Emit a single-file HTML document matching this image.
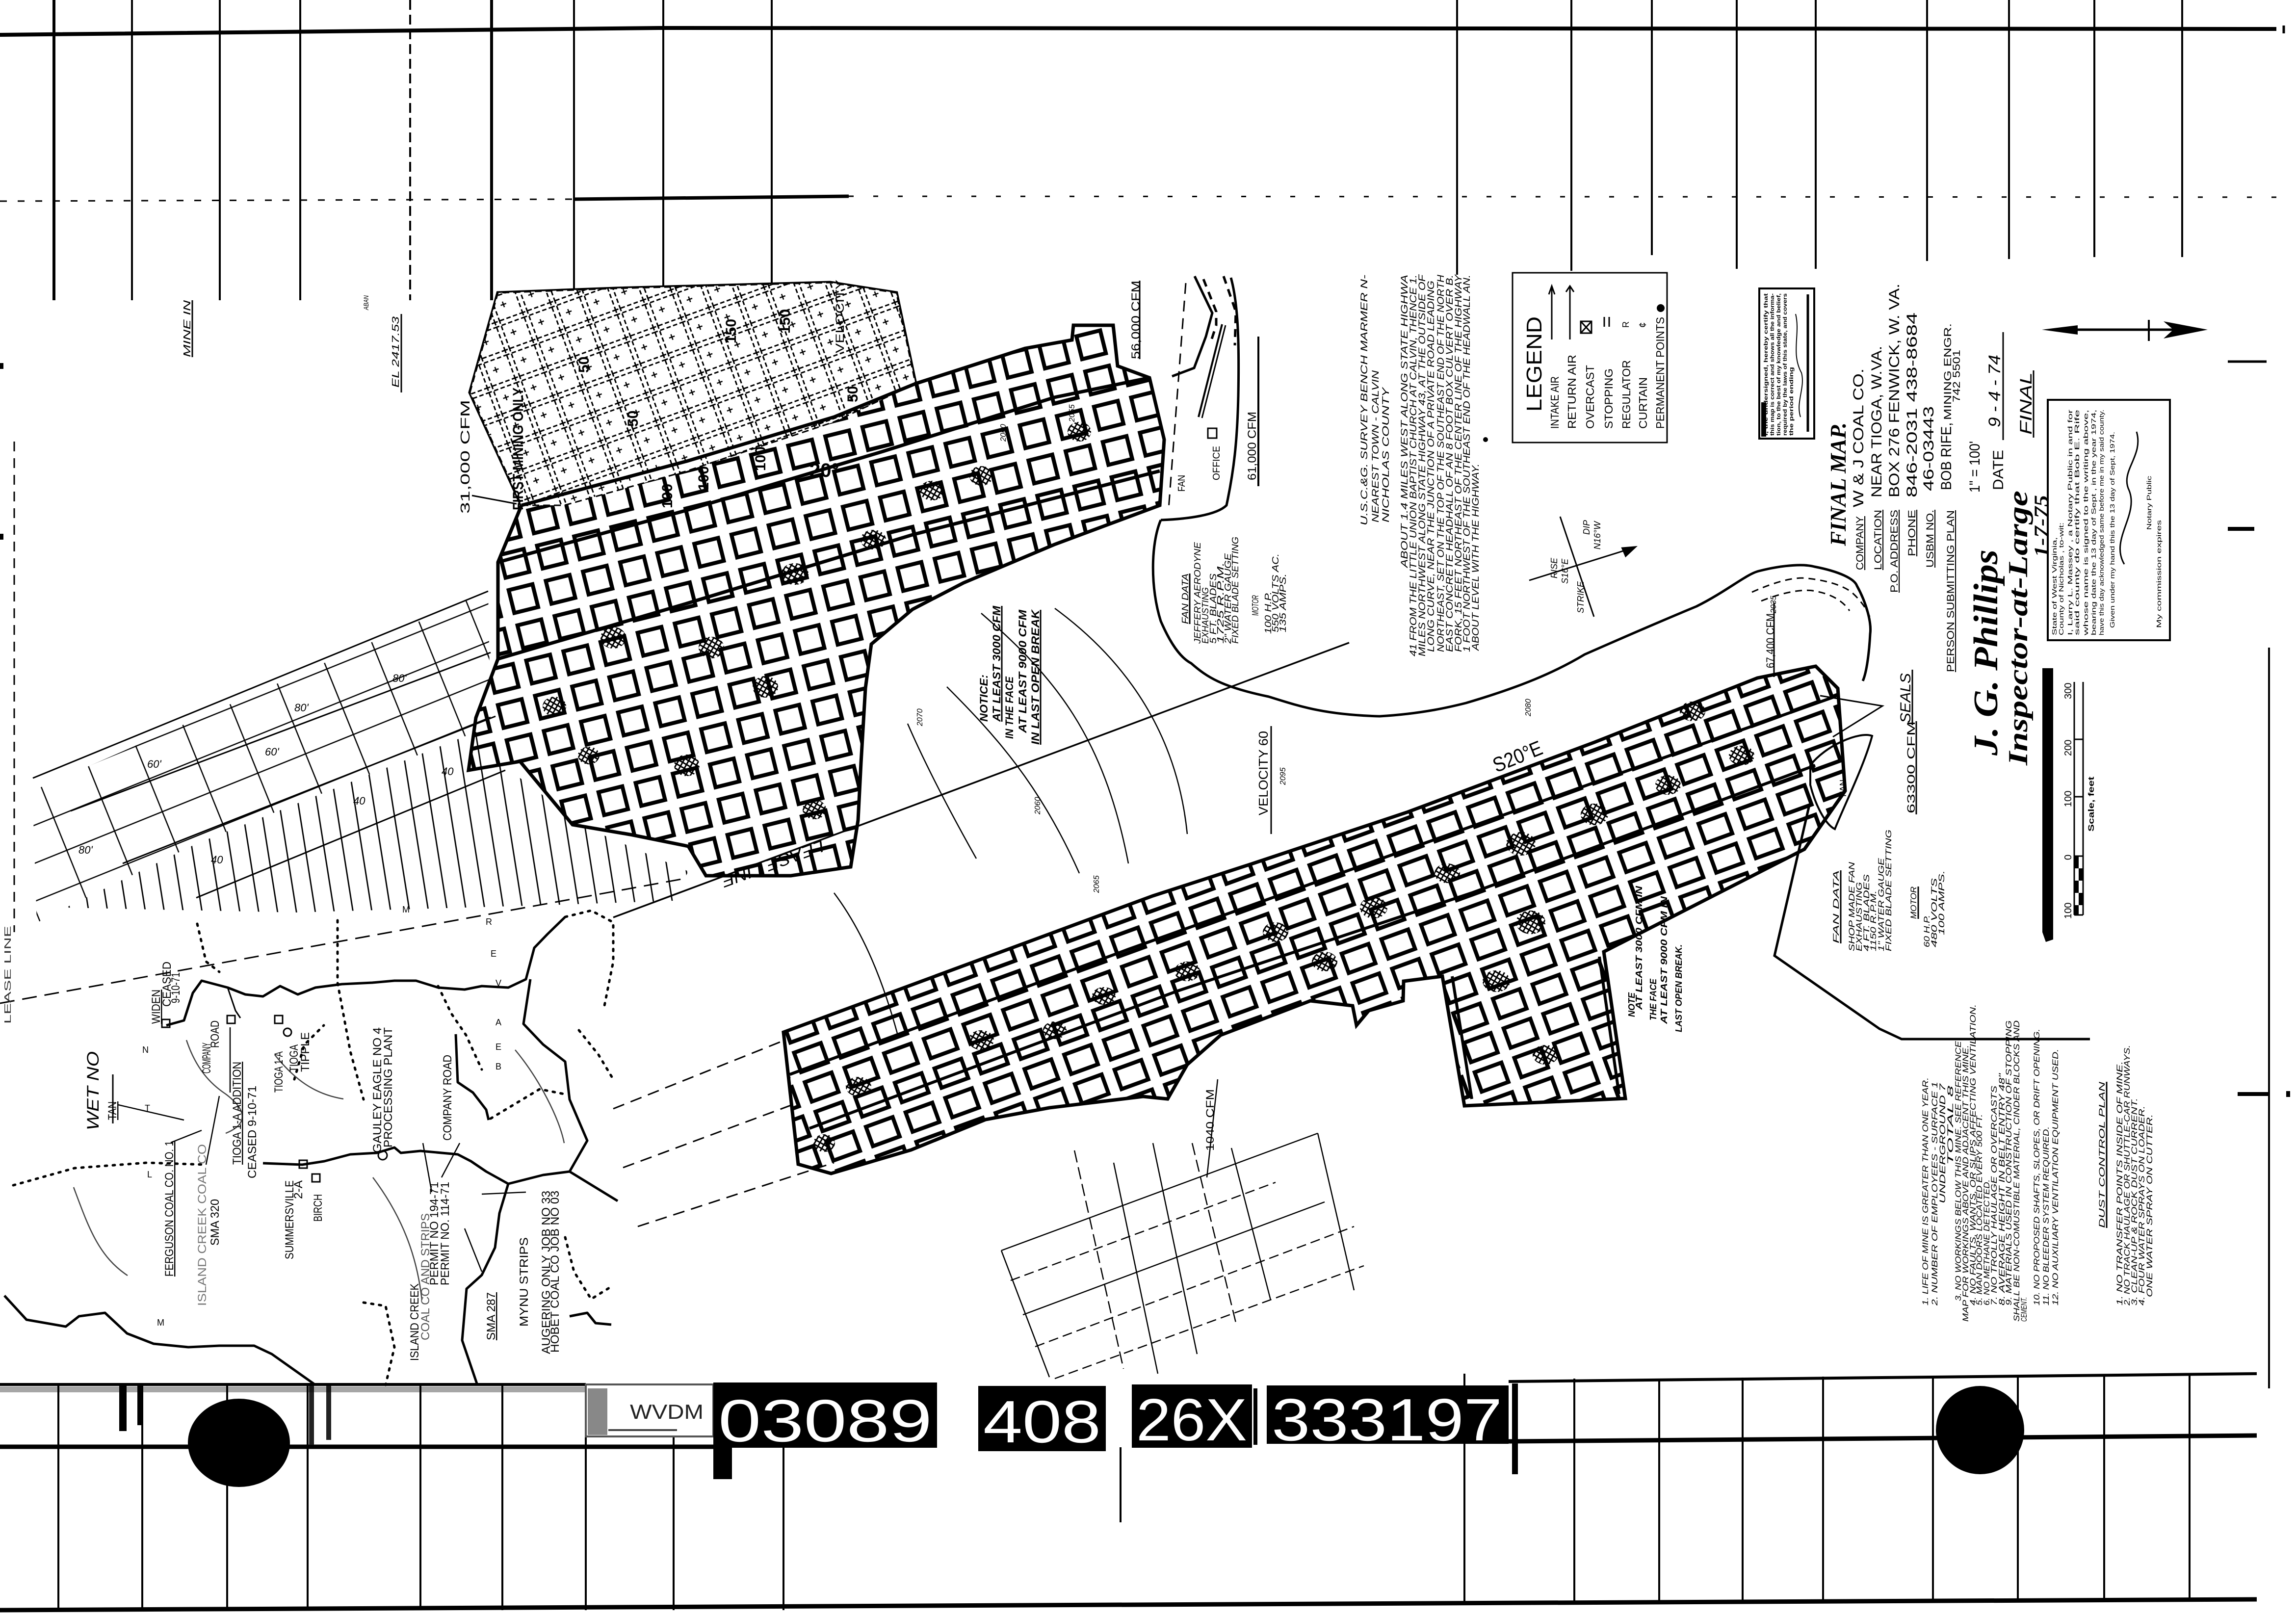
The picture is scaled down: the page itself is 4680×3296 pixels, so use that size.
<!DOCTYPE html>
<html><head><meta charset="utf-8">
<style>
html,body{margin:0;padding:0;background:#fff;}
svg{display:block;}
text{font-family:"Liberation Sans",sans-serif;}
.i{font-style:italic;}
.s{font-family:"Liberation Serif",serif;font-style:italic;font-weight:bold;}
</style></head><body>
<svg xmlns="http://www.w3.org/2000/svg" width="4680" height="3296" viewBox="0 0 4680 3296">
<defs>
<pattern id="pilL" patternUnits="userSpaceOnUse" width="86" height="64" patternTransform="rotate(-20)">
<rect x="13" y="10" width="58" height="42" fill="none" stroke="#000" stroke-width="8"/>
</pattern>
<pattern id="pilU" patternUnits="userSpaceOnUse" width="78" height="74" patternTransform="rotate(-14)">
<rect x="13" y="12" width="50" height="48" fill="none" stroke="#000" stroke-width="8"/>
</pattern>
<pattern id="fine" patternUnits="userSpaceOnUse" width="60" height="60" patternTransform="rotate(-20)">
<path d="M0 3H60M0 13H60M3 0V60M13 0V60" fill="none" stroke="#000" stroke-width="3" stroke-dasharray="9 5"/>
<path d="M26 34h12M32 28v12" stroke="#000" stroke-width="2.5"/>
</pattern>
<pattern id="sgrid" patternUnits="userSpaceOnUse" width="105" height="72" patternTransform="rotate(-22)">
<path d="M0 2H105M2 0V72" stroke="#000" stroke-width="2.5" fill="none"/>
</pattern>
<pattern id="hatch" patternUnits="userSpaceOnUse" width="38" height="100" patternTransform="rotate(-9)">
<path d="M2 0V100" stroke="#000" stroke-width="2.8"/>
</pattern>
<pattern id="xh" patternUnits="userSpaceOnUse" width="9" height="9" patternTransform="rotate(30)">
<path d="M0 2H9M2 0V9" stroke="#000" stroke-width="3"/>
</pattern>
</defs>

<rect width="4680" height="3296" fill="#fff"/>

<!-- ===== TOP FRAME ===== -->
<g stroke="#000" fill="none">
<polyline points="0,71 1343,57 4640,59" stroke-width="8"/>
<g stroke-width="4">
<line x1="110" y1="0" x2="110" y2="612" stroke-width="6"/>
<line x1="269" y1="0" x2="269" y2="612"/>
<line x1="448" y1="0" x2="448" y2="612"/>
<line x1="612" y1="0" x2="612" y2="612"/>
<line x1="836" y1="0" x2="836" y2="612" stroke-dasharray="20 10"/>
<line x1="1002" y1="0" x2="1002" y2="612" stroke-width="6"/>
<line x1="1170" y1="0" x2="1170" y2="612"/>
<line x1="1352" y1="0" x2="1352" y2="612"/>
<line x1="1573" y1="0" x2="1573" y2="612"/>
<line x1="2970" y1="0" x2="2970" y2="560"/>
<line x1="3203" y1="0" x2="3203" y2="552"/>
<line x1="3367" y1="0" x2="3367" y2="520"/>
<line x1="3540" y1="0" x2="3540" y2="548"/>
<line x1="3701" y1="0" x2="3701" y2="548"/>
<line x1="3928" y1="0" x2="3928" y2="532"/>
<line x1="4095" y1="0" x2="4095" y2="528"/>
<line x1="4269" y1="0" x2="4269" y2="524"/>
<line x1="4448" y1="0" x2="4448" y2="524"/>
</g>
<polyline points="0,410 1170,406" stroke-width="3" stroke-dasharray="14 22"/>
<polyline points="1170,406 1730,400" stroke-width="7"/>
<polyline points="1730,400 4640,402" stroke-width="3" stroke-dasharray="10 40"/>
<line x1="4655" y1="52" x2="4655" y2="68" stroke-width="5"/>
</g>

<!-- ===== BOTTOM FRAME ===== -->
<g stroke="#000" fill="none">
<line x1="0" y1="2822" x2="1194" y2="2822" stroke-width="6"/>
<line x1="3075" y1="2816" x2="4600" y2="2800" stroke-width="6"/>
<line x1="0" y1="2949" x2="1454" y2="2949" stroke-width="9"/>
<line x1="3075" y1="2938" x2="4600" y2="2926" stroke-width="9"/>
<line x1="0" y1="3282" x2="4600" y2="3260" stroke-width="9"/>
<g stroke-width="4">
<line x1="119" y1="2822" x2="119" y2="3282"/>
<line x1="290" y1="2822" x2="290" y2="3282"/>
<line x1="463" y1="2822" x2="463" y2="3282"/>
<line x1="627" y1="2822" x2="627" y2="3282"/>
<line x1="857" y1="2822" x2="857" y2="3282"/>
<line x1="1024" y1="2822" x2="1024" y2="3282"/>
<line x1="1194" y1="2822" x2="1194" y2="3282"/>
<line x1="1373" y1="2930" x2="1373" y2="3282"/>
<line x1="1597" y1="2950" x2="1597" y2="3282"/>
<line x1="2284" y1="2950" x2="2284" y2="3103"/>
<line x1="2985" y1="2800" x2="2985" y2="3270"/>
<line x1="3209" y1="2810" x2="3209" y2="3270"/>
<line x1="3382" y1="2810" x2="3382" y2="3270"/>
<line x1="3552" y1="2808" x2="3552" y2="3268"/>
<line x1="3716" y1="2806" x2="3716" y2="3266"/>
<line x1="3940" y1="2805" x2="3940" y2="3265"/>
<line x1="4113" y1="2804" x2="4113" y2="3264"/>
<line x1="4289" y1="2802" x2="4289" y2="3262"/>
<line x1="4463" y1="2800" x2="4463" y2="3260"/>
</g>
<line x1="4625" y1="1320" x2="4625" y2="2830" stroke-width="4"/>
<line x1="4561" y1="2230" x2="4625" y2="2230" stroke-width="8"/>
<line x1="4541" y1="1078" x2="4595" y2="1078" stroke-width="8"/>
<line x1="4541" y1="737" x2="4620" y2="737" stroke-width="5"/>
<line x1="29" y1="900" x2="29" y2="1900" stroke-width="3" stroke-dasharray="20 14"/>
</g>
<rect x="0" y="740" width="7" height="12" fill="#000"/>
<rect x="0" y="1088" width="7" height="12" fill="#000"/>
<rect x="4660" y="2224" width="8" height="12" fill="#000"/>

<!-- bottom left marks -->
<rect x="243" y="2825" width="15" height="92" fill="#000"/>
<rect x="280" y="2825" width="12" height="80" fill="#000"/>
<rect x="630" y="2825" width="10" height="120" fill="#222"/>
<rect x="665" y="2825" width="10" height="110" fill="#222"/>
<rect x="0" y="2826" width="1194" height="12" fill="#000" opacity="0.35"/>
<ellipse cx="487" cy="2941" rx="104" ry="90" fill="#000"/>
<ellipse cx="4036" cy="2915" rx="90" ry="90" fill="#000"/>

<!-- stamp -->
<rect x="1194" y="2822" width="260" height="106" fill="#fff" stroke="#555" stroke-width="4"/>
<rect x="1198" y="2830" width="40" height="95" fill="#888"/>
<text x="1284" y="2892" font-size="42" textLength="150" lengthAdjust="spacingAndGlyphs" style="fill:#222">WVDM</text>
<line x1="1240" y1="2915" x2="1380" y2="2915" stroke="#444" stroke-width="4"/>
<rect x="1454" y="2818" width="456" height="133" fill="#000"/>
<rect x="1454" y="2951" width="38" height="64" fill="#000"/>
<rect x="1994" y="2825" width="260" height="133" fill="#000"/>
<rect x="2307" y="2822" width="245" height="129" fill="#000"/>
<rect x="2582" y="2824" width="493" height="119" fill="#000"/>
<rect x="3082" y="2820" width="12" height="185" fill="#000"/>
<g style="fill:#fff" font-size="122">
<text x="1464" y="2938" textLength="436" lengthAdjust="spacingAndGlyphs" style="fill:#fff">03089</text>
<text x="2004" y="2940" textLength="240" lengthAdjust="spacingAndGlyphs" style="fill:#fff">408</text>
<text x="2316" y="2936" textLength="226" lengthAdjust="spacingAndGlyphs" style="fill:#fff">26X</text>
<text x="2592" y="2936" textLength="470" lengthAdjust="spacingAndGlyphs" style="fill:#fff">333197</text>
</g>
<rect x="2555" y="2830" width="8" height="115" fill="#000"/>

<!-- ===== LEFT HATCH AREA ===== -->
<polygon points="66,1612 995,1205 1000,1480 700,1600 400,1720 134,1850 75,1881" fill="url(#sgrid)"/>
<polygon points="134,1850 400,1720 700,1600 1000,1480 1015,1552 1194,1687 1403,1776 1373,1836 1116,1845 600,1860" fill="url(#hatch)"/>
<g stroke="#000" fill="none" stroke-width="3">
<line x1="67" y1="1586" x2="995" y2="1205"/>
<line x1="144" y1="1653" x2="1000" y2="1330"/>
<line x1="250" y1="1760" x2="1010" y2="1460"/>
<line x1="400" y1="1830" x2="1030" y2="1570"/>
<line x1="0" y1="2045" x2="1400" y2="1790" stroke-dasharray="30 16"/>
<line x1="1250" y1="1870" x2="2750" y2="1310" stroke-width="3.5"/>
<line x1="1250" y1="2260" x2="1600" y2="2120" stroke-dasharray="24 14"/>
<line x1="1270" y1="2380" x2="1620" y2="2250" stroke-dasharray="24 14"/>
<line x1="1300" y1="2500" x2="1700" y2="2370" stroke-dasharray="24 14"/>
</g>
<g font-size="22" class="i">
<text x="300" y="1565">60'</text><text x="600" y="1450">80'</text><text x="800" y="1390">80'</text>
<text x="430" y="1760">40</text><text x="720" y="1640">40</text><text x="900" y="1580">40</text>
<text x="160" y="1740">80'</text><text x="540" y="1540">60'</text>
</g>

<!-- contours -->
<g stroke="#000" fill="none" stroke-width="2.5">
<path d="M1850,1475 Q1900,1590 1990,1750"/>
<path d="M1930,1400 C2030,1500 2120,1600 2200,1780"/>
<path d="M2000,1250 C2150,1380 2250,1500 2300,1760"/>
<path d="M2150,1240 C2300,1350 2400,1500 2420,1700"/>
<path d="M1700,1820 C1760,1900 1800,2000 1830,2110"/>
<path d="M2482,2200 L2460,2400"/>
</g>

<!-- bottom grid lines under lower mine -->
<g stroke="#000" fill="none" stroke-width="2.5">
<line x1="2041" y1="2549" x2="2686" y2="2310"/>
<line x1="2060" y1="2610" x2="2600" y2="2410" stroke-dasharray="20 10"/>
<line x1="2085" y1="2680" x2="2700" y2="2450"/>
<line x1="2110" y1="2745" x2="2760" y2="2500" stroke-dasharray="20 10"/>
<line x1="2150" y1="2810" x2="2780" y2="2580" stroke-dasharray="20 10"/>
<line x1="2041" y1="2549" x2="2139" y2="2807"/>
<line x1="2190" y1="2345" x2="2290" y2="2790" stroke-dasharray="25 10"/>
<line x1="2270" y1="2370" x2="2360" y2="2800"/>
<line x1="2350" y1="2330" x2="2440" y2="2760"/>
<line x1="2430" y1="2330" x2="2520" y2="2700" stroke-dasharray="25 10"/>
<line x1="2510" y1="2340" x2="2590" y2="2650"/>
<line x1="2686" y1="2310" x2="2760" y2="2630"/>
</g>

<!-- ===== UPPER MINE ===== -->
<polygon points="1015,597 1254,588 1692,576 1827,597 1866,782 2090,710 2185,693 2188,663 2269,663 2278,746 2343,770 2373,896 2364,1030 2149,1110 1964,1188 1860,1242 1776,1313 1764,1403 1755,1555 1749,1672 1734,1767 1612,1785 1439,1785 1403,1725 1284,1701 1167,1681 1060,1552 955,1570 970,1463 1015,1343 1015,1146 1063,1030 958,800" fill="url(#pilU)" stroke="#000" stroke-width="7"/>
<polygon points="958,800 1015,597 1254,588 1692,576 1827,597 1866,782 1700,860 1400,960 1150,1030 1063,1030" fill="#fff"/>
<polygon points="958,800 1015,597 1254,588 1692,576 1827,597 1866,782 1700,860 1400,960 1150,1030 1063,1030" fill="url(#fine)" stroke="#000" stroke-width="3" stroke-dasharray="14 8"/>
<g stroke="#000" fill="none" stroke-width="7">
<polyline points="1063,1030 1400,940 1700,850 1866,782 2090,710"/>
<polyline points="1015,1146 1400,1040 1800,920 2149,810 2343,770"/>
<polyline points="1015,1343 1400,1230 1860,1090 2364,960"/>
</g>

<!-- ===== LOWER MINE ===== -->
<polygon points="1597,2104 2350,1826 2551,1761 2867,1656 3250,1513 3582,1382 3701,1358 3746,1403 3761,1612 3678,1731 3269,1940 3313,2239 2985,2254 2940,1990 2861,2000 2860,2040 2790,2060 2765,2090 2757,2050 2671,2040 2488,2110 2420,2170 2380,2240 2330,2235 2139,2258 2009,2282 1857,2344 1694,2392 1627,2373" fill="url(#pilL)" stroke="#000" stroke-width="7"/>
<g stroke="#000" fill="none" stroke-width="6">
<polyline points="1610,2190 2300,1935 2900,1720 3740,1420"/>
<polyline points="1650,2300 2400,2020 3000,1820 3700,1560"/>
<polyline points="2960,1990 3000,2240"/>
<polyline points="3260,1950 3300,2230"/>
</g>

<!-- gob spots -->
<g fill="url(#xh)">
<ellipse cx="1750" cy="2215" rx="26" ry="20"/><ellipse cx="2000" cy="2120" rx="26" ry="20"/>
<ellipse cx="2250" cy="2030" rx="24" ry="18"/><ellipse cx="2420" cy="1980" rx="26" ry="20"/>
<ellipse cx="2600" cy="1900" rx="26" ry="20"/><ellipse cx="2800" cy="1850" rx="28" ry="22"/>
<ellipse cx="2950" cy="1780" rx="26" ry="20"/><ellipse cx="3100" cy="1720" rx="30" ry="24"/>
<ellipse cx="3250" cy="1660" rx="28" ry="22"/><ellipse cx="3400" cy="1600" rx="26" ry="20"/>
<ellipse cx="3550" cy="1540" rx="26" ry="20"/><ellipse cx="3050" cy="2000" rx="28" ry="22"/>
<ellipse cx="3150" cy="2150" rx="26" ry="20"/><ellipse cx="2700" cy="1960" rx="26" ry="20"/>
<ellipse cx="2150" cy="2100" rx="24" ry="18"/><ellipse cx="1680" cy="2330" rx="22" ry="18"/>
<ellipse cx="3450" cy="1450" rx="26" ry="20"/><ellipse cx="3120" cy="1880" rx="30" ry="24"/>
<ellipse cx="1130" cy="1440" rx="24" ry="20"/><ellipse cx="1250" cy="1300" rx="26" ry="22"/>
<ellipse cx="1450" cy="1320" rx="26" ry="22"/><ellipse cx="1620" cy="1170" rx="28" ry="22"/>
<ellipse cx="1780" cy="1100" rx="26" ry="20"/><ellipse cx="1900" cy="1000" rx="26" ry="20"/>
<ellipse cx="2000" cy="970" rx="24" ry="20"/><ellipse cx="1560" cy="1400" rx="26" ry="22"/>
<ellipse cx="1400" cy="1560" rx="26" ry="22"/><ellipse cx="1660" cy="1650" rx="24" ry="20"/>
<ellipse cx="2200" cy="880" rx="24" ry="20"/><ellipse cx="1200" cy="1540" rx="22" ry="18"/>
</g>

<!-- ===== roads / curves near upper mine right ===== -->
<g stroke="#000" fill="none" stroke-width="5">
<polyline points="2435,563 2471,638 2458,686 2434,750 2389,767"/>
<polyline points="2453,569 2479,635 2479,663 2467,700" stroke-dasharray="16 12"/>
<polyline points="2494,563 2519,635 2517,704" stroke-dasharray="16 12"/>
<path d="M2509,566 C2524,620 2526,700 2524,807 C2522,900 2515,960 2500,1030 C2480,1050 2420,1058 2366,1060"/>
<path d="M2366,1060 C2345,1110 2345,1200 2366,1266 C2385,1310 2405,1340 2428,1352 C2460,1380 2490,1400 2586,1420 C2650,1440 2700,1457 2812,1460 C2900,1455 2960,1440 2988,1433 C3100,1400 3170,1370 3230,1334 C3330,1290 3400,1260 3458,1236 C3520,1205 3560,1170 3585,1164 C3640,1150 3680,1150 3698,1155 C3750,1165 3780,1180 3785,1194 C3805,1230 3815,1270 3812,1292 C3810,1330 3805,1370 3797,1388"/>
<path d="M3571,1207 C3620,1185 3660,1175 3685,1179 C3740,1185 3765,1200 3774,1207 C3800,1230 3808,1250 3811,1257" stroke-width="3" stroke-dasharray="14 10"/>
<path d="M3590,1225 C3640,1205 3680,1200 3700,1205 C3740,1212 3760,1230 3770,1245" stroke-width="3" stroke-dasharray="14 10"/>
<polyline points="3688,1641 3617,1948 3831,2097 3876,2118 4260,2118"/>
<polyline points="3710,1418 3837,1439 3736,1502" stroke-width="3"/>
<path d="M3690,1560 C3720,1520 3790,1490 3816,1500 C3800,1560 3760,1640 3740,1690 C3720,1680 3700,1640 3690,1600 Z" stroke-width="4"/>
<line x1="2417" y1="577" x2="2382" y2="1037" stroke-width="3" stroke-dasharray="22 14"/>
<line x1="2565" y1="686" x2="2565" y2="991" stroke-width="4"/>
<line x1="2491" y1="661" x2="2443" y2="850" stroke-width="4"/>
<line x1="2498" y1="663" x2="2450" y2="852" stroke-width="3"/>
<line x1="2323" y1="572" x2="2323" y2="732" stroke-width="3"/>
<rect x="2462" y="873" width="18" height="20" stroke-width="3"/>
<line x1="962" y1="1010" x2="1053" y2="1027" stroke-width="3"/>
<line x1="2591" y1="1480" x2="2591" y2="1700" stroke-width="3"/>
<line x1="3616" y1="1228" x2="3616" y2="1380" stroke-width="3"/>
<line x1="3117" y1="1183" x2="3331" y2="1116" stroke-width="3"/>
<polygon points="3331,1116 3308,1118 3314,1132" fill="#000"/>
<line x1="3180" y1="1053" x2="3249" y2="1257" stroke-width="3"/>
</g>

<!-- ===== LEFT MAP (roads) ===== -->
<g stroke="#000" fill="none" stroke-width="5" stroke-linejoin="round">
<polyline points="339,2090 375,2080 393,2024 411,1999 464,2013 500,2027 536,2031 571,2010 607,2027 643,2013 697,2006 759,2003 804,1999 848,1999 893,2013 947,2017 982,2010 1036,2013 1072,1996 1089,1932 1116,1904 1152,1869"/>
<polyline points="536,2371 616,2374 661,2367 714,2353 768,2350 804,2339 817,2350 857,2346 933,2353 960,2367 991,2388 1036,2413 1107,2395 1161,2388 1259,2448"/>
<polyline points="1081,1996 1067,2087 1107,2129 1152,2164 1161,2241 1197,2325 1161,2388"/>
<polyline points="1036,2413 1018,2473 1009,2543 982,2599 951,2627 942,2732 973,2823"/>
<polyline points="9,2641 54,2690 134,2704 161,2683 214,2676 259,2718 313,2739 384,2746 447,2743 518,2743 554,2760 643,2823"/>
<polyline points="929,2108 933,2206 964,2227 991,2262 996,2283"/>
<polyline points="1161,2683 1197,2676 1214,2697 1246,2700"/>
<polyline points="464,2013 480,2060 490,2075" stroke-width="3"/>
</g>
<g stroke="#000" fill="none" stroke-width="5" stroke-dasharray="4 12" stroke-linecap="round">
<polyline points="688,1876 688,2003 714,2143 741,2241"/>
<polyline points="893,2010 920,2066 950,2110 982,2180"/>
<polyline points="1152,1869 1205,1856 1250,1880 1250,1960 1230,2060"/>
<polyline points="27,2416 152,2381 300,2370 420,2374"/>
<polyline points="1152,2522 1170,2592 1205,2648 1250,2620"/>
<polyline points="741,2655 786,2662 804,2746 786,2823"/>
<polyline points="402,1883 420,1960 447,1981"/>
<polyline points="1000,2280 1050,2250 1100,2220 1150,2230"/>
<polyline points="600,2200 620,2130 660,2090"/>
<polyline points="1180,2100 1220,2150 1250,2200"/>
</g>
<g stroke="#000" fill="none" stroke-width="2.5">
<line x1="241" y1="2252" x2="375" y2="2283"/>
<line x1="348" y1="2329" x2="411" y2="2304"/>
<line x1="420" y1="2374" x2="447" y2="2234"/>
<line x1="469" y1="2227" x2="469" y2="2094"/>
<line x1="982" y1="2434" x2="1072" y2="2430"/>
<line x1="947" y1="2504" x2="982" y2="2592"/>
<line x1="862" y1="2330" x2="880" y2="2430"/>
<line x1="937" y1="2330" x2="900" y2="2400"/>
<path d="M380,2120 C400,2180 430,2210 460,2230 C500,2260 510,2290 460,2310" stroke="#444"/>
<path d="M560,2150 C600,2200 640,2230 700,2240" stroke="#444"/>
<path d="M760,2400 C820,2480 850,2560 860,2650" stroke="#444"/>
<path d="M150,2420 C180,2500 200,2560 260,2600" stroke="#444"/>
<path d="M1050,2140 C1100,2200 1140,2280 1150,2330" stroke="#444"/>
</g>
<g fill="none" stroke="#000" stroke-width="3">
<rect x="330" y="2078" width="16" height="16"/><rect x="463" y="2070" width="16" height="16"/>
<rect x="560" y="2070" width="16" height="16"/><rect x="610" y="2365" width="16" height="16"/>
<rect x="636" y="2393" width="16" height="16"/>
<circle cx="586" cy="2104" r="8"/><circle cx="780" cy="2355" r="9"/>
</g>

<!-- ===== TEXT: top-left ===== -->
<g class="i">
<text transform="translate(388,728) rotate(-90)" font-size="20" textLength="116" lengthAdjust="spacingAndGlyphs">MINE IN</text>
<text transform="translate(813,790) rotate(-90)" font-size="20" textLength="145" lengthAdjust="spacingAndGlyphs">EL 2417.53</text>
<text transform="translate(751,632) rotate(-90)" font-size="14" textLength="30" lengthAdjust="spacingAndGlyphs">ABAN</text>
</g>
<line x1="392" y1="612" x2="392" y2="728" stroke="#000" stroke-width="3"/>
<line x1="818" y1="640" x2="818" y2="800" stroke="#000" stroke-width="3"/>
<text transform="translate(957,1047) rotate(-90)" font-size="26" textLength="232" lengthAdjust="spacingAndGlyphs">31,000 CFM</text>
<text transform="translate(1066,1040) rotate(-90)" font-size="30" textLength="250" lengthAdjust="spacingAndGlyphs" font-weight="bold">FIRST MINING ONLY</text>
<g font-size="30" font-weight="bold">
<text transform="translate(1370,1036) rotate(-90)">100</text>
<text transform="translate(1444,1000) rotate(-90)">100</text>
<text transform="translate(1560,960) rotate(-90)">100</text>
<text transform="translate(1748,820) rotate(-90)">50</text>
<text transform="translate(1300,870) rotate(-90)">50</text>
<text transform="translate(1200,760) rotate(-90)">50</text>
<text transform="translate(1500,700) rotate(-90)">150</text>
<text transform="translate(1610,680) rotate(-90)">150</text>
<text x="1650" y="972" font-size="40">20°</text>
</g>
<text transform="translate(1720,720) rotate(-90)" font-size="24" textLength="150" lengthAdjust="spacingAndGlyphs">VELOCITY</text>
<text transform="translate(1675,1712) rotate(160)" font-size="34" textLength="220" lengthAdjust="spacingAndGlyphs" class="i">LEASE LINE</text>
<text transform="translate(22,2087) rotate(-90)" font-size="18" textLength="200" lengthAdjust="spacingAndGlyphs" style="fill:#333">LEASE LINE</text>

<!-- NOTICE upper -->
<g font-size="22" class="i" font-weight="bold">
<text transform="translate(2013,1471) rotate(-90)" textLength="96" lengthAdjust="spacingAndGlyphs">NOTICE:</text>
<text transform="translate(2039,1471) rotate(-90)" textLength="236" lengthAdjust="spacingAndGlyphs" text-decoration="underline">AT LEAST 3000 CFM</text>
<text transform="translate(2065,1506) rotate(-90)" textLength="127" lengthAdjust="spacingAndGlyphs">IN THE FACE</text>
<text transform="translate(2092,1494) rotate(-90)" textLength="251" lengthAdjust="spacingAndGlyphs">AT LEAST 9000 CFM</text>
<text transform="translate(2118,1518) rotate(-90)" textLength="275" lengthAdjust="spacingAndGlyphs">IN LAST OPEN BREAK</text>
</g>
<line x1="2042" y1="1235" x2="2042" y2="1471" stroke="#000" stroke-width="3"/>
<line x1="2121" y1="1243" x2="2121" y2="1518" stroke="#000" stroke-width="3"/>

<!-- fan data upper -->
<g font-size="18" class="i">
<text transform="translate(2422,1272) rotate(-90)" textLength="103" lengthAdjust="spacingAndGlyphs">FAN DATA</text>
<text transform="translate(2447,1312) rotate(-90)" textLength="207" lengthAdjust="spacingAndGlyphs">JEFFERY AERODYNE</text>
<text transform="translate(2463,1312) rotate(-90)" textLength="115" lengthAdjust="spacingAndGlyphs">EXHAUSTING</text>
<text transform="translate(2479,1312) rotate(-90)" textLength="143" lengthAdjust="spacingAndGlyphs">5 FT. BLADES</text>
<text transform="translate(2494,1312) rotate(-90)" textLength="166" lengthAdjust="spacingAndGlyphs">1725 R.P.M.</text>
<text transform="translate(2509,1312) rotate(-90)" textLength="184" lengthAdjust="spacingAndGlyphs">2" WATER GAUGE</text>
<text transform="translate(2524,1312) rotate(-90)" textLength="218" lengthAdjust="spacingAndGlyphs">FIXED BLADE SETTING</text>
<text transform="translate(2565,1255) rotate(-90)" textLength="42" lengthAdjust="spacingAndGlyphs">MOTOR</text>
<text transform="translate(2591,1292) rotate(-90)" textLength="86" lengthAdjust="spacingAndGlyphs">100 H.P.</text>
<text transform="translate(2606,1289) rotate(-90)" textLength="161" lengthAdjust="spacingAndGlyphs">550 VOLTS AC.</text>
<text transform="translate(2621,1289) rotate(-90)" textLength="120" lengthAdjust="spacingAndGlyphs">135 AMPS.</text>
</g>
<line x1="2425" y1="1169" x2="2425" y2="1272" stroke="#000" stroke-width="3"/>
<text transform="translate(2323,732) rotate(-90)" font-size="24" textLength="160" lengthAdjust="spacingAndGlyphs">56,000 CFM</text>
<text transform="translate(2560,979) rotate(-90)" font-size="24" textLength="140" lengthAdjust="spacingAndGlyphs">61,000 CFM</text>
<text transform="translate(2486,979) rotate(-90)" font-size="20" textLength="70" lengthAdjust="spacingAndGlyphs">OFFICE</text>
<text transform="translate(2415,1002) rotate(-90)" font-size="20" textLength="34" lengthAdjust="spacingAndGlyphs">FAN</text>

<!-- bench marker text -->
<g font-size="19" class="i">
<text transform="translate(2787,1071) rotate(-90)" textLength="511" lengthAdjust="spacingAndGlyphs">U.S.C.&amp;G. SURVEY BENCH MARMER N-</text>
<text transform="translate(2810,1065) rotate(-90)" textLength="310" lengthAdjust="spacingAndGlyphs">NEAREST TOWN - CALVIN</text>
<text transform="translate(2831,1065) rotate(-90)" textLength="275" lengthAdjust="spacingAndGlyphs">NICHOLAS COUNTY</text>
<text transform="translate(2869,1157) rotate(-90)" textLength="597" lengthAdjust="spacingAndGlyphs">ABOUT 1.4 MILES WEST ALONG STATE HIGHWA</text>
<text transform="translate(2887,1338) rotate(-90)" textLength="778" lengthAdjust="spacingAndGlyphs">41 FROM THE LITTLE UNION BAPTIST CHURCH AT CALVIN, THENCE 1.</text>
<text transform="translate(2905,1338) rotate(-90)" textLength="778" lengthAdjust="spacingAndGlyphs">MILES NORTHWEST ALONG STATE HIGHWAY 43, AT THE OUTSIDE OF</text>
<text transform="translate(2923,1329) rotate(-90)" textLength="757" lengthAdjust="spacingAndGlyphs">LONG CURVE, NEAR THE JUNCTION OF A PRIVATE ROAD LEADING</text>
<text transform="translate(2943,1329) rotate(-90)" textLength="769" lengthAdjust="spacingAndGlyphs">NORTHEAST, SET ON THE TOP OF THE SOUTHEAST END OF THE NORTH</text>
<text transform="translate(2961,1329) rotate(-90)" textLength="769" lengthAdjust="spacingAndGlyphs">EAST CONCRETE HEADHALL OF AN 8 FOOT BOX CULVERT OVER B.</text>
<text transform="translate(2979,1329) rotate(-90)" textLength="769" lengthAdjust="spacingAndGlyphs">FORK, 15 FEET NORTHEAST OF THE CENTER LINE OF THE HIGHWAY</text>
<text transform="translate(2996,1329) rotate(-90)" textLength="769" lengthAdjust="spacingAndGlyphs">1 FOOT NORTHWEST OF THE SOUTHEAST END OF THE HEADWALL AN.</text>
<text transform="translate(3014,1326) rotate(-90)" textLength="381" lengthAdjust="spacingAndGlyphs">ABOUT LEVEL WITH THE HIGHWAY.</text>
</g>
<circle cx="3028" cy="896" r="5" fill="#000"/>

<!-- legend -->
<rect x="3083" y="556" width="315" height="346" fill="none" stroke="#000" stroke-width="3"/>
<text transform="translate(3142,839) rotate(-90)" font-size="44" textLength="194" lengthAdjust="spacingAndGlyphs">LEGEND</text>
<g font-size="23">
<text transform="translate(3177,874) rotate(-90)" textLength="107" lengthAdjust="spacingAndGlyphs">INTAKE AIR</text>
<text transform="translate(3212,874) rotate(-90)" textLength="151" lengthAdjust="spacingAndGlyphs">RETURN AIR</text>
<text transform="translate(3249,874) rotate(-90)" textLength="130" lengthAdjust="spacingAndGlyphs">OVERCAST</text>
<text transform="translate(3287,874) rotate(-90)" textLength="123" lengthAdjust="spacingAndGlyphs">STOPPING</text>
<text transform="translate(3323,874) rotate(-90)" textLength="140" lengthAdjust="spacingAndGlyphs">REGULATOR</text>
<text transform="translate(3357,874) rotate(-90)" textLength="105" lengthAdjust="spacingAndGlyphs">CURTAIN</text>
<text transform="translate(3392,874) rotate(-90)" textLength="228" lengthAdjust="spacingAndGlyphs">PERMANENT POINTS</text>
</g>
<g stroke="#000" fill="none" stroke-width="3">
<line x1="3163" y1="583" x2="3163" y2="692"/>
<polyline points="3157,600 3163,583 3169,600"/>
<line x1="3200" y1="583" x2="3200" y2="692"/>
<polyline points="3192,595 3200,583 3208,595"/>
<rect x="3222" y="655" width="22" height="24"/>
<line x1="3222" y1="655" x2="3244" y2="679"/><line x1="3244" y1="655" x2="3222" y2="679"/>
<line x1="3270" y1="646" x2="3270" y2="666"/><line x1="3280" y1="646" x2="3280" y2="666"/>
</g>
<text transform="translate(3320,668) rotate(-90)" font-size="18">R</text>
<text transform="translate(3355,668) rotate(-90)" font-size="20">¢</text>
<circle cx="3385" cy="628" r="8" fill="#000"/>

<!-- cert box -->
<rect x="3586" y="588" width="112" height="306" fill="none" stroke="#000" stroke-width="4"/>
<rect x="3590" y="820" width="10" height="70" fill="#000"/>
<g font-size="11" font-weight="bold">
<text transform="translate(3603,888) rotate(-90)" textLength="290" lengthAdjust="spacingAndGlyphs">I, the undersigned, hereby certify that</text>
<text transform="translate(3616,888) rotate(-90)" textLength="290" lengthAdjust="spacingAndGlyphs">this map is correct and shows all the informa-</text>
<text transform="translate(3629,888) rotate(-90)" textLength="290" lengthAdjust="spacingAndGlyphs">tion, to the best of my knowledge and belief,</text>
<text transform="translate(3642,888) rotate(-90)" textLength="290" lengthAdjust="spacingAndGlyphs">required by the laws of this state, and covers</text>
<text transform="translate(3655,888) rotate(-90)" textLength="140" lengthAdjust="spacingAndGlyphs">the period ending</text>
</g>
<line x1="3685" y1="600" x2="3685" y2="880" stroke="#000" stroke-width="5"/>
<path d="M3660,640 C3670,680 3650,720 3672,760 C3680,790 3660,820 3670,850" stroke="#000" fill="none" stroke-width="2"/>

<!-- company block -->
<text transform="translate(3762,1113) rotate(-90)" font-size="46" textLength="252" lengthAdjust="spacingAndGlyphs" class="s">FINAL MAP.</text>
<g font-size="21">
<text transform="translate(3798,1162) rotate(-90)" textLength="110" lengthAdjust="spacingAndGlyphs" text-decoration="underline">COMPANY</text>
<text transform="translate(3835,1162) rotate(-90)" textLength="123" lengthAdjust="spacingAndGlyphs" text-decoration="underline">LOCATION</text>
<text transform="translate(3868,1208) rotate(-90)" textLength="169" lengthAdjust="spacingAndGlyphs" text-decoration="underline">P.O. ADDRESS</text>
<text transform="translate(3904,1134) rotate(-90)" textLength="95" lengthAdjust="spacingAndGlyphs" text-decoration="underline">PHONE</text>
<text transform="translate(3941,1157) rotate(-90)" textLength="118" lengthAdjust="spacingAndGlyphs" text-decoration="underline">USBM NO.</text>
<text transform="translate(3983,1370) rotate(-90)" textLength="330" lengthAdjust="spacingAndGlyphs" text-decoration="underline">PERSON SUBMITTING PLAN</text>
<text transform="translate(3977,856) rotate(-90)" textLength="197" lengthAdjust="spacingAndGlyphs">MINING ENGR.</text>
<text transform="translate(3995,820) rotate(-90)" textLength="107" lengthAdjust="spacingAndGlyphs">742 5501</text>
</g>
<g font-size="30">
<text transform="translate(3798,1034) rotate(-90)" textLength="283" lengthAdjust="spacingAndGlyphs">W &amp; J  COAL  CO.</text>
<text transform="translate(3835,1014) rotate(-90)" textLength="309" lengthAdjust="spacingAndGlyphs">NEAR TIOGA, W.VA.</text>
<text transform="translate(3871,1014) rotate(-90)" textLength="436" lengthAdjust="spacingAndGlyphs">BOX 276   FENWICK, W. VA.</text>
<text transform="translate(3907,1014) rotate(-90)" textLength="377" lengthAdjust="spacingAndGlyphs">846-2031    438-8684</text>
<text transform="translate(3941,1001) rotate(-90)" textLength="173" lengthAdjust="spacingAndGlyphs">46-03443</text>
<text transform="translate(3977,999) rotate(-90)" textLength="138" lengthAdjust="spacingAndGlyphs">BOB RIFE,</text>
<text transform="translate(4035,1004) rotate(-90)" textLength="105" lengthAdjust="spacingAndGlyphs">1" = 100'</text>
<text transform="translate(4083,999) rotate(-90)" textLength="82" lengthAdjust="spacingAndGlyphs">DATE</text>
</g>
<line x1="4083" y1="677" x2="4083" y2="897" stroke="#000" stroke-width="3"/>
<text transform="translate(4077,871) rotate(-90)" font-size="34" textLength="148" lengthAdjust="spacingAndGlyphs" class="i">9 - 4 - 74</text>
<text transform="translate(4141,886) rotate(-90)" font-size="34" textLength="127" lengthAdjust="spacingAndGlyphs" class="i">FINAL</text>
<line x1="4145" y1="755" x2="4145" y2="892" stroke="#000" stroke-width="3"/>

<!-- north arrow -->
<polygon points="4162,672 4235,663 4235,682" fill="#000"/>
<line x1="4230" y1="672" x2="4440" y2="672" stroke="#000" stroke-width="5"/>
<line x1="4380" y1="652" x2="4380" y2="695" stroke="#000" stroke-width="4"/>
<polygon points="4410,655 4500,672 4410,690 4430,672" fill="#000"/>

<!-- notary box -->
<rect x="4174" y="815" width="249" height="490" fill="none" stroke="#000" stroke-width="4"/>
<g font-size="13">
<text transform="translate(4192,1295) rotate(-90)" textLength="200" lengthAdjust="spacingAndGlyphs">State of West Virginia,</text>
<text transform="translate(4206,1295) rotate(-90)" textLength="230" lengthAdjust="spacingAndGlyphs">County of Nicholas , to-wit:</text>
<text transform="translate(4224,1295) rotate(-90)" textLength="460" lengthAdjust="spacingAndGlyphs">I, Larry L. Massey , a Notary Public in and for</text>
<text transform="translate(4238,1295) rotate(-90)" textLength="460" lengthAdjust="spacingAndGlyphs">said county do certify that Bob E. Rife</text>
<text transform="translate(4256,1295) rotate(-90)" textLength="460" lengthAdjust="spacingAndGlyphs">whose name is signed to the writing above,</text>
<text transform="translate(4272,1295) rotate(-90)" textLength="460" lengthAdjust="spacingAndGlyphs">bearing date the 13 day of Sept , in the year 1974,</text>
<text transform="translate(4288,1295) rotate(-90)" textLength="460" lengthAdjust="spacingAndGlyphs">have this day acknowledged same before me in my said county.</text>
<text transform="translate(4310,1280) rotate(-90)" textLength="400" lengthAdjust="spacingAndGlyphs">Given under my hand this the 13 day of Sept, 1974.</text>
<text transform="translate(4385,1080) rotate(-90)" textLength="110" lengthAdjust="spacingAndGlyphs">Notary Public</text>
<text transform="translate(4405,1280) rotate(-90)" textLength="220" lengthAdjust="spacingAndGlyphs">My commission expires</text>
</g>
<path d="M4330,1150 C4300,1100 4360,1050 4340,1000 C4320,960 4370,930 4355,880" fill="none" stroke="#000" stroke-width="3"/>

<!-- signature -->
<text transform="translate(4071,1540) rotate(-90)" font-size="70" textLength="420" lengthAdjust="spacingAndGlyphs" class="s">J. G. Phillips</text>
<text transform="translate(4132,1560) rotate(-90)" font-size="56" textLength="560" lengthAdjust="spacingAndGlyphs" class="s">Inspector-at-Large</text>
<text transform="translate(4174,1136) rotate(-90)" font-size="40" textLength="127" lengthAdjust="spacingAndGlyphs" class="s">1-7-75</text>

<!-- seals / cfm -->
<text transform="translate(3894,1474) rotate(-90)" font-size="30" textLength="102" lengthAdjust="spacingAndGlyphs" class="i">SEALS</text>
<line x1="3898" y1="1365" x2="3898" y2="1478" stroke="#000" stroke-width="3"/>
<text transform="translate(3616,1362) rotate(-90)" font-size="22" textLength="112" lengthAdjust="spacingAndGlyphs">67,400 CFM</text>
<text transform="translate(3903,1658) rotate(-90)" font-size="22" textLength="188" lengthAdjust="spacingAndGlyphs">63300 CFM</text>
<line x1="3906" y1="1470" x2="3906" y2="1660" stroke="#000" stroke-width="3"/>

<!-- dip / strike -->
<g font-size="18" class="i">
<text transform="translate(3174,1179) rotate(-90)">RISE</text>
<text transform="translate(3196,1190) rotate(-90)">S16°E</text>
<text transform="translate(3240,1090) rotate(-90)">DIP</text>
<text transform="translate(3262,1120) rotate(-90)">N16°W</text>
<text transform="translate(3228,1250) rotate(-90)">STRIKE</text>
</g>

<!-- lower mine labels -->
<text transform="translate(2584,1662) rotate(-90)" font-size="26" textLength="172" lengthAdjust="spacingAndGlyphs">VELOCITY 60</text>
<text transform="translate(3050,1575) rotate(-22)" font-size="42" textLength="105" lengthAdjust="spacingAndGlyphs">S20°E</text>
<text transform="translate(2474,2346) rotate(-90)" font-size="22" textLength="126" lengthAdjust="spacingAndGlyphs">1040 CFM</text>
<g font-size="16" class="i">
<text transform="translate(2240,1820) rotate(-90)">2065</text>
<text transform="translate(2120,1660) rotate(-90)">2060</text>
<text transform="translate(2620,1600) rotate(-90)">2095</text>
<text transform="translate(3120,1460) rotate(-90)">2080</text>
<text transform="translate(1880,1480) rotate(-90)">2070</text>
<text transform="translate(2050,900) rotate(-90)">2060</text>
<text transform="translate(2190,860) rotate(-90)">2055</text>
<text transform="translate(3620,1250) rotate(-90)">2035</text>
</g>
<g font-size="18" class="i" font-weight="bold">
<text transform="translate(3332,2073) rotate(-90)">NOTE</text>
<text transform="translate(3347,2058) rotate(-90)" textLength="252" lengthAdjust="spacingAndGlyphs">AT LEAST 3000 CFM IN</text>
<text transform="translate(3376,2080) rotate(-90)" textLength="85" lengthAdjust="spacingAndGlyphs">THE FACE</text>
<text transform="translate(3398,2087) rotate(-90)" textLength="260" lengthAdjust="spacingAndGlyphs">AT LEAST 9000 CFM IN</text>
<text transform="translate(3428,2104) rotate(-90)" textLength="179" lengthAdjust="spacingAndGlyphs">LAST OPEN BREAK.</text>
</g>
<text transform="translate(3763,1624) rotate(-90)" font-size="18">FAN</text>

<!-- fan data lower -->
<g font-size="17" class="i">
<text transform="translate(3748,1923) rotate(-90)" textLength="149" lengthAdjust="spacingAndGlyphs">FAN DATA</text>
<text transform="translate(3780,1939) rotate(-90)" textLength="182" lengthAdjust="spacingAndGlyphs">SHOP MADE FAN</text>
<text transform="translate(3795,1939) rotate(-90)" textLength="141" lengthAdjust="spacingAndGlyphs">EXHAUSTING</text>
<text transform="translate(3810,1939) rotate(-90)" textLength="157" lengthAdjust="spacingAndGlyphs">4 FT. BLADES</text>
<text transform="translate(3824,1939) rotate(-90)" textLength="124" lengthAdjust="spacingAndGlyphs">1150 R.P.M.</text>
<text transform="translate(3840,1939) rotate(-90)" textLength="190" lengthAdjust="spacingAndGlyphs">1" WATER GAUGE</text>
<text transform="translate(3855,1939) rotate(-90)" textLength="248" lengthAdjust="spacingAndGlyphs">FIXED BLADE SETTING</text>
<text transform="translate(3906,1873) rotate(-90)" textLength="66" lengthAdjust="spacingAndGlyphs">MOTOR</text>
<text transform="translate(3933,1931) rotate(-90)" textLength="66" lengthAdjust="spacingAndGlyphs">60 H.P.</text>
<text transform="translate(3948,1931) rotate(-90)" textLength="141" lengthAdjust="spacingAndGlyphs">480 VOLTS</text>
<text transform="translate(3963,1906) rotate(-90)" textLength="132" lengthAdjust="spacingAndGlyphs">100 AMPS.</text>
</g>
<line x1="3752" y1="1774" x2="3752" y2="1923" stroke="#000" stroke-width="3"/>
<line x1="3910" y1="1807" x2="3910" y2="1873" stroke="#000" stroke-width="3"/>

<!-- notes -->
<g font-size="17" class="i">
<text transform="translate(3930,2661) rotate(-90)" textLength="465" lengthAdjust="spacingAndGlyphs">1. LIFE OF MINE IS GREATER THAN ONE YEAR.</text>
<text transform="translate(3949,2661) rotate(-90)" textLength="456" lengthAdjust="spacingAndGlyphs">2. NUMBER OF EMPLOYEES - SURFACE    1</text>
<text transform="translate(3965,2453) rotate(-90)" textLength="244" lengthAdjust="spacingAndGlyphs">UNDERGROUND    7</text>
<text transform="translate(3981,2375) rotate(-90)" textLength="162" lengthAdjust="spacingAndGlyphs">TOTAL    8</text>
<text transform="translate(3997,2652) rotate(-90)" textLength="530" lengthAdjust="spacingAndGlyphs">3. NO WORKINGS BELOW THIS MINE. SEE REFERENCE</text>
<text transform="translate(4012,2694) rotate(-90)" textLength="564" lengthAdjust="spacingAndGlyphs">MAP FOR WORKINGS ABOVE AND ADJACENT THIS MINE.</text>
<text transform="translate(4027,2661) rotate(-90)" textLength="614" lengthAdjust="spacingAndGlyphs">4. NO FAULTS, WANTS, OR SLIPS AFFECTING VENTILATION.</text>
<text transform="translate(4040,2661) rotate(-90)" textLength="390" lengthAdjust="spacingAndGlyphs">5. MAN DOORS LOCATED EVERY 500 FT.</text>
<text transform="translate(4055,2661) rotate(-90)" textLength="257" lengthAdjust="spacingAndGlyphs">6. NO METHANE DETECTED.</text>
<text transform="translate(4070,2661) rotate(-90)" textLength="448" lengthAdjust="spacingAndGlyphs">7. NO TROLLY HAULAGE OR OVERCASTS</text>
<text transform="translate(4086,2661) rotate(-90)" textLength="473" lengthAdjust="spacingAndGlyphs">8. AVERAGE HEIGHT IN BELT ENTRY 48"</text>
<text transform="translate(4100,2661) rotate(-90)" textLength="581" lengthAdjust="spacingAndGlyphs">9. MATERIALS USED IN CONSTRUCTION OF STOPPING</text>
<text transform="translate(4116,2694) rotate(-90)" textLength="614" lengthAdjust="spacingAndGlyphs">SHALL BE NON-COMUSTIBLE MATERIAL, CINDER BLOCKS AND</text>
<text transform="translate(4131,2694) rotate(-90)" textLength="50" lengthAdjust="spacingAndGlyphs">CEMENT.</text>
<text transform="translate(4157,2661) rotate(-90)" textLength="564" lengthAdjust="spacingAndGlyphs">10. NO PROPOSED SHAFTS, SLOPES, OR DRIFT OPENING.</text>
<text transform="translate(4176,2661) rotate(-90)" textLength="365" lengthAdjust="spacingAndGlyphs">11. NO BLEEDER SYSTEM REQUIRED.</text>
<text transform="translate(4195,2661) rotate(-90)" textLength="523" lengthAdjust="spacingAndGlyphs">12. NO AUXILIARY VENTILATION EQUIPMENT USED.</text>
<text transform="translate(4290,2503) rotate(-90)" textLength="298" lengthAdjust="spacingAndGlyphs">DUST   CONTROL   PLAN</text>
<text transform="translate(4326,2661) rotate(-90)" textLength="498" lengthAdjust="spacingAndGlyphs">1. NO TRANSFER POINTS INSIDE OF MINE.</text>
<text transform="translate(4341,2661) rotate(-90)" textLength="531" lengthAdjust="spacingAndGlyphs">2. NO TRACK HAULAGE OR SHUTTLE-CAR RUNWAYS.</text>
<text transform="translate(4356,2661) rotate(-90)" textLength="423" lengthAdjust="spacingAndGlyphs">3. CLEAN-UP &amp; ROCK DUST CURRENT.</text>
<text transform="translate(4371,2661) rotate(-90)" textLength="407" lengthAdjust="spacingAndGlyphs">4. FOUR WATER SPRAYS ON LOADER.</text>
<text transform="translate(4387,2644) rotate(-90)" textLength="373" lengthAdjust="spacingAndGlyphs">ONE WATER SPRAY ON CUTTER.</text>
</g>
<line x1="4294" y1="2205" x2="4294" y2="2503" stroke="#000" stroke-width="3"/>

<!-- scale bar -->
<polygon points="4163,1362 4185,1362 4185,1915 4170,1920 4163,1900" fill="#000"/>
<g stroke="#000" fill="none" stroke-width="3">
<line x1="4228" y1="1390" x2="4228" y2="1865"/>
<line x1="4246" y1="1390" x2="4246" y2="1865"/>
<line x1="4228" y1="1865" x2="4246" y2="1865"/>
<line x1="4228" y1="1507" x2="4246" y2="1507"/>
<line x1="4228" y1="1624" x2="4246" y2="1624"/>
<line x1="4228" y1="1745" x2="4246" y2="1745"/>
</g>
<rect x="4228" y="1745" width="9" height="25" fill="#000"/>
<rect x="4237" y="1770" width="9" height="25" fill="#000"/>
<rect x="4228" y="1795" width="9" height="25" fill="#000"/>
<rect x="4237" y="1820" width="9" height="25" fill="#000"/>
<rect x="4228" y="1845" width="9" height="20" fill="#000"/>
<g font-size="20">
<text transform="translate(4222,1425) rotate(-90)">300</text>
<text transform="translate(4222,1541) rotate(-90)">200</text>
<text transform="translate(4222,1645) rotate(-90)">100</text>
<text transform="translate(4222,1753) rotate(-90)">0</text>
<text transform="translate(4222,1873) rotate(-90)">100</text>
</g>
<text transform="translate(4268,1695) rotate(-90)" font-size="17" font-weight="bold" textLength="112" lengthAdjust="spacingAndGlyphs">Scale, feet</text>

<!-- left map labels -->
<g font-size="24">
<text transform="translate(326,2087) rotate(-90)" textLength="70" lengthAdjust="spacingAndGlyphs" text-decoration="underline">WIDEN</text>
<text transform="translate(348,2052) rotate(-90)" textLength="92" lengthAdjust="spacingAndGlyphs">CEASED</text>
<text transform="translate(366,2045) rotate(-90)" textLength="63" lengthAdjust="spacingAndGlyphs">9-10-71</text>
<text transform="translate(429,2188) rotate(-90)" textLength="63" lengthAdjust="spacingAndGlyphs">COMPANY</text>
<text transform="translate(446,2136) rotate(-90)" textLength="56" lengthAdjust="spacingAndGlyphs">ROAD</text>
<text transform="translate(491,2374) rotate(-90)" textLength="210" lengthAdjust="spacingAndGlyphs" text-decoration="underline">TIOGA 1-A ADDITION</text>
<text transform="translate(522,2402) rotate(-90)" textLength="189" lengthAdjust="spacingAndGlyphs">CEASED 9-10-71</text>
<text transform="translate(576,2227) rotate(-90)" textLength="84" lengthAdjust="spacingAndGlyphs">TIOGA 1-A</text>
<text transform="translate(607,2185) rotate(-90)" textLength="56" lengthAdjust="spacingAndGlyphs">TIOGA</text>
<text transform="translate(630,2185) rotate(-90)" textLength="81" lengthAdjust="spacingAndGlyphs">TIPPLE</text>
<text transform="translate(777,2350) rotate(-90)" textLength="256" lengthAdjust="spacingAndGlyphs">GAULEY EAGLE NO 4</text>
<text transform="translate(799,2339) rotate(-90)" textLength="245" lengthAdjust="spacingAndGlyphs">PROCESSING PLANT</text>
<text transform="translate(920,2325) rotate(-90)" textLength="175" lengthAdjust="spacingAndGlyphs">COMPANY ROAD</text>
<text transform="translate(353,2602) rotate(-90)" textLength="277" lengthAdjust="spacingAndGlyphs" text-decoration="underline">FERGUSON COAL CO. NO. 1</text>
<text transform="translate(420,2662) rotate(-90)" textLength="330" lengthAdjust="spacingAndGlyphs" style="fill:#777">ISLAND CREEK COAL CO</text>
<text transform="translate(446,2539) rotate(-90)" textLength="95" lengthAdjust="spacingAndGlyphs">SMA 320</text>
<text transform="translate(598,2567) rotate(-90)" textLength="161" lengthAdjust="spacingAndGlyphs">SUMMERSVILLE</text>
<text transform="translate(616,2444) rotate(-90)" textLength="38" lengthAdjust="spacingAndGlyphs">2-A</text>
<text transform="translate(656,2490) rotate(-90)" textLength="56" lengthAdjust="spacingAndGlyphs">BIRCH</text>
<text transform="translate(853,2774) rotate(-90)" textLength="158" lengthAdjust="spacingAndGlyphs">ISLAND CREEK</text>
<text transform="translate(875,2732) rotate(-90)" textLength="259" lengthAdjust="spacingAndGlyphs" style="fill:#555">COAL CO AND STRIPS</text>
<text transform="translate(893,2620) rotate(-90)" textLength="211" lengthAdjust="spacingAndGlyphs">PERMIT NO 194-71</text>
<text transform="translate(915,2620) rotate(-90)" textLength="211" lengthAdjust="spacingAndGlyphs">PERMIT NO. 114-71</text>
<text transform="translate(1009,2732) rotate(-90)" textLength="98" lengthAdjust="spacingAndGlyphs" text-decoration="underline">SMA 287</text>
<text transform="translate(1076,2704) rotate(-90)" textLength="182" lengthAdjust="spacingAndGlyphs">MYNU STRIPS</text>
<text transform="translate(1121,2760) rotate(-90)" textLength="333" lengthAdjust="spacingAndGlyphs">AUGERING ONLY JOB NO 33</text>
<text transform="translate(1139,2757) rotate(-90)" textLength="330" lengthAdjust="spacingAndGlyphs">HOBET COAL CO JOB NO 03</text>
<text transform="translate(237,2283) rotate(-90)" textLength="38" lengthAdjust="spacingAndGlyphs" text-decoration="underline">TAN</text>
</g>
<text transform="translate(201,2304) rotate(-90)" font-size="34" textLength="161" lengthAdjust="spacingAndGlyphs" class="i">WET NO</text>
<line x1="230" y1="2190" x2="230" y2="2290" stroke="#000" stroke-width="3"/>
<g font-size="18">
<text x="290" y="2146">N</text><text x="300" y="2400">L</text><text x="295" y="2265">T</text>
<text x="320" y="2702">M</text><text x="990" y="1885">R</text><text x="1000" y="1950">E</text>
<text x="1010" y="2010">V</text><text x="1010" y="2090">A</text><text x="1010" y="2140">E</text>
<text x="1010" y="2180">B</text><text x="820" y="1860">M</text>
</g>
</svg>
</body></html>
